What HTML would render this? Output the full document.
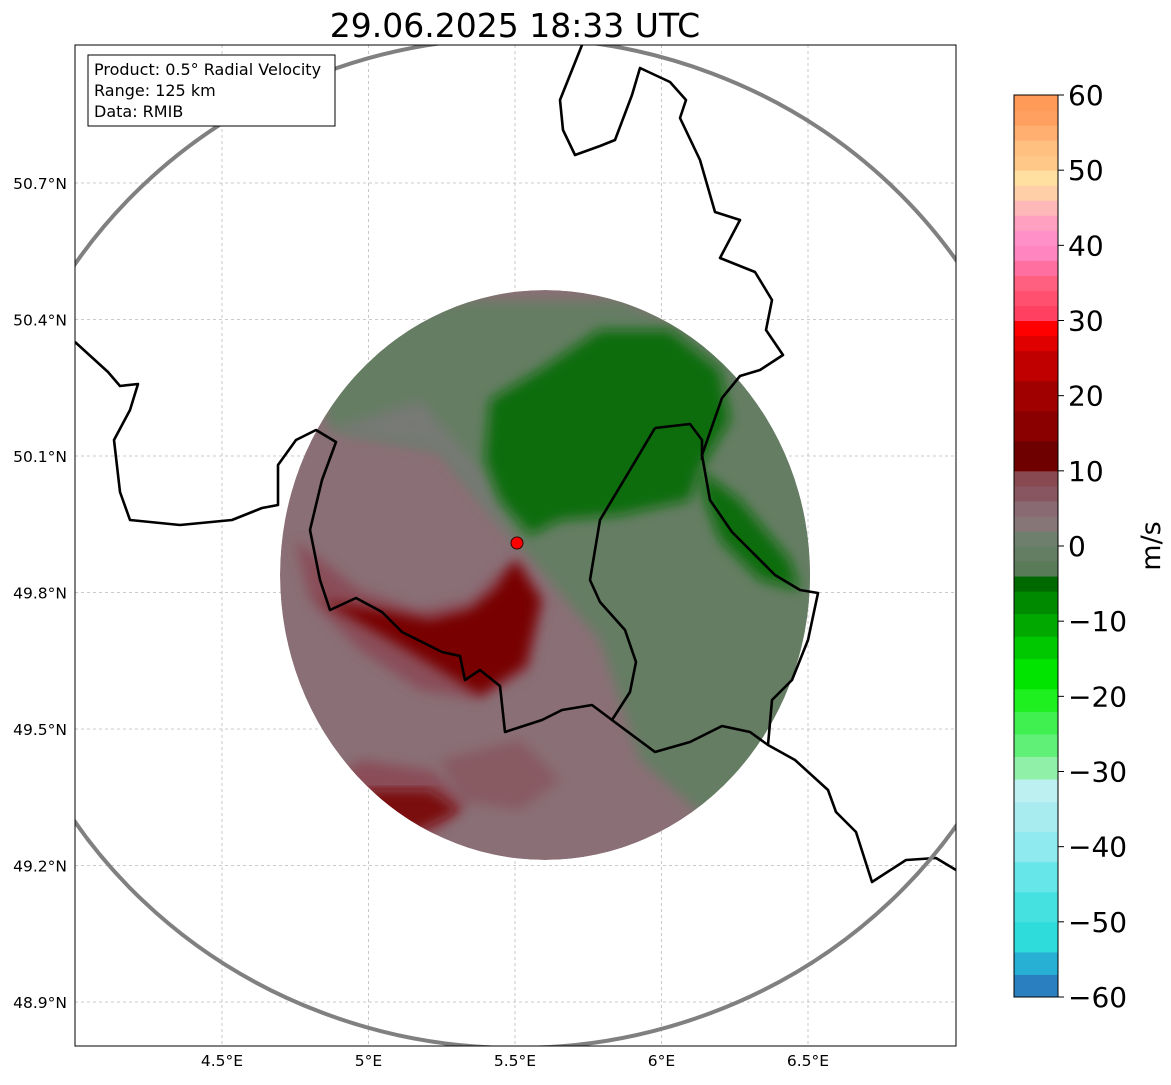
<!DOCTYPE html>
<html><head><meta charset="utf-8"><style>
body{margin:0;background:#fff;width:1171px;height:1081px;overflow:hidden;font-family:"DejaVu Sans","Liberation Sans",sans-serif}
</style></head><body>
<svg id="fig" width="1171" height="1081" xmlns="http://www.w3.org/2000/svg" font-family="DejaVu Sans, Liberation Sans, sans-serif">
<defs>
<clipPath id="axclip"><rect x="75" y="45" width="881" height="1001"/></clipPath>
<clipPath id="echoclip"><ellipse cx="545" cy="575" rx="265" ry="285"/></clipPath>
<filter id="soft"><feGaussianBlur stdDeviation="6"/></filter>
</defs>
<text x="515" y="37" font-size="33" text-anchor="middle">29.06.2025 18:33 UTC</text>
<g id="map" clip-path="url(#axclip)">
<g id="grid" stroke="#bbb" stroke-width="0.8" stroke-dasharray="3,3"></g>
<g clip-path="url(#echoclip)">
<ellipse cx="545" cy="575" rx="265" ry="285" fill="#8a6f76"/>
<path d="M300,330 L470,300 L620,300 L820,380 L830,780 L720,830 L640,760 L600,640 L517,543 L440,450 L330,430 Z" fill="#657d63" filter="url(#soft)"/>
<path d="M330,430 L440,450 L517,543 L480,470 L420,400 Z" fill="#777975" filter="url(#soft)"/>
<path d="M490,400 L540,370 L600,330 L670,330 L720,370 L730,420 L700,470 L690,500 L620,515 L560,520 L530,535 L500,500 L485,460 Z" fill="#0b6d0b" filter="url(#soft)"/>
<path d="M700,470 L740,500 L790,560 L800,590 L760,580 L720,540 L705,500 Z" fill="#0b6d0b" filter="url(#soft)"/>
<path d="M295,540 L310,600 L360,650 L420,690 L480,700 L530,670 L545,600 L520,560 L500,570 L470,600 L420,610 L360,590 Z" fill="#8a4e58" filter="url(#soft)"/>
<path d="M320,600 L390,640 L440,670 L480,695 L525,665 L540,600 L515,560 L495,590 L470,610 L430,620 L380,610 Z" fill="#780303" filter="url(#soft)"/>
<path d="M310,800 L360,760 L430,770 L470,800 L440,830 L380,840 L330,830 Z" fill="#8a4e58" filter="url(#soft)"/>
<path d="M320,815 L370,790 L430,790 L460,810 L420,830 L360,835 Z" fill="#7a1010" filter="url(#soft)"/>
<path d="M440,760 L520,740 L560,780 L520,810 L460,800 Z" fill="#885a62" filter="url(#soft)"/>
</g>
<g fill="none" stroke="#000" stroke-width="2.6" stroke-linejoin="round">
<polyline points="582,45 560,100 563,130 575,155 600,146 615,140 632,95 640,68 670,82 686,100 680,118 700,160 715,212 740,220 720,258 755,272 772,300 766,330 783,355 760,370 740,376 722,398 702,455 710,500 732,532 775,575 800,590 818,593 808,640 792,680 772,700 768,745 795,760 828,790 836,812 856,832 872,882 906,860 936,858 956,870"/>
<polyline points="655,428 690,424 702,440 702,460"/>
<polyline points="655,428 630,470 600,520 590,580 600,602 625,630 636,662 630,692 612,720 655,752 690,742 722,726 750,732 768,745"/>
<polyline points="75,342 108,372 120,386 138,384 130,410 114,440 120,492 130,520 180,525 232,520 262,508 278,505 278,465 296,440 316,430 336,442 322,480 310,530 320,580 330,610 356,598 382,612 402,632 422,642 442,652 460,656 465,680 480,670 500,686 505,732 542,720 562,710 592,705 612,720"/>
</g>
<ellipse cx="517" cy="543" rx="530" ry="505" fill="none" stroke="#808080" stroke-width="4"/>
<circle cx="517" cy="543" r="6" fill="#f00" stroke="#300" stroke-width="1"/>
<g>
<rect x="88" y="55" width="247" height="71" fill="#fff" stroke="#000" stroke-width="1"/>
<text x="94" y="75" font-size="16">Product: 0.5° Radial Velocity</text>
<text x="94" y="96" font-size="16">Range: 125 km</text>
<text x="94" y="117" font-size="16">Data: RMIB</text>
</g>
</g>
<rect x="75" y="45" width="881" height="1001" fill="none" stroke="#000" stroke-width="1"/>
<g id="axlabels" font-size="15.5"></g>
<g id="cbar"></g>
<text transform="translate(1160,546) rotate(-90)" font-size="27" text-anchor="middle">m/s</text>
</svg>
<script>
const lonTicks=[4.5,5,5.5,6,6.5];
const latTicks=[48.9,49.2,49.5,49.8,50.1,50.4,50.7];
const cbTicks=[-60,-50,-40,-30,-20,-10,0,10,20,30,40,50,60];
const cbStops=[-60,-57,-54,-50,-46,-42,-38,-34,-31,-28,-25,-22,-19,-15,-12,-9,-6,-4,-2,0,2,4,6,8,10,14,18,22,26,28,30,32,34,36,38,40,42,44,46,48,50,52,54,56,58,60];
const cbColors=["#2a7fc0","#27b0d4","#2edcdc","#45e0e0","#66e6e8","#8eeaee","#a9ecf0","#bdf0f0","#90f0a8","#60f078","#40f050","#1ef020","#00e400","#00c800","#00a800","#008a00","#006a00","#5a7b58","#637e62","#6f7f6e","#867677","#8a6a72","#885660","#884a50","#6e0000","#8a0000","#a00000","#c00000","#e00000","#ff0000","#ff4060","#ff5070","#ff6080","#ff70a0","#ff85c0","#ff90c8","#ffa0c0","#ffb8b8","#ffd0a8","#ffe0a0","#ffc888","#ffc080","#ffb070","#ffa060","#ff9a58"];
const ns="http://www.w3.org/2000/svg";
const X0=75,X1=956,Y0=45,Y1=1046;
function xLon(l){return 222+(l-4.5)*293;}
function yLat(a){return 1002-(a-48.9)/0.3*136.5;}
const grid=document.getElementById('grid'),axl=document.getElementById('axlabels');
lonTicks.forEach(l=>{const x=xLon(l);
 const g=document.createElementNS(ns,'line');g.setAttribute('x1',x);g.setAttribute('x2',x);g.setAttribute('y1',Y0);g.setAttribute('y2',Y1);
 
 grid.appendChild(g);
 const t=document.createElementNS(ns,'text');t.setAttribute('x',x);t.setAttribute('y',1066);t.setAttribute('text-anchor','middle');t.textContent=l+'°E';
 
 axl.appendChild(t);});
latTicks.forEach(a=>{const y=yLat(a);
 const g=document.createElementNS(ns,'line');g.setAttribute('x1',X0);g.setAttribute('x2',X1);g.setAttribute('y1',y);g.setAttribute('y2',y);
 
 grid.appendChild(g);
 const t=document.createElementNS(ns,'text');t.setAttribute('x',67);t.setAttribute('y',y+6);t.setAttribute('text-anchor','end');t.textContent=a.toFixed(1)+'°N';
 
 axl.appendChild(t);});
const cb=document.getElementById('cbar');
const CT=95,CB=997,CX=1014,CW=44;
function yV(v){return CB-(v+60)/120*(CB-CT);}
for(let i=0;i<cbColors.length;i++){const r=document.createElementNS(ns,'rect');
 const y1=yV(cbStops[i+1]),y2=yV(cbStops[i]);
 r.setAttribute('x',CX);r.setAttribute('y',y1);r.setAttribute('width',CW);r.setAttribute('height',y2-y1+0.5);r.setAttribute('fill',cbColors[i]);
 
 cb.appendChild(r);}
const fr=document.createElementNS(ns,'rect');fr.setAttribute('x',CX);fr.setAttribute('y',CT);fr.setAttribute('width',CW);fr.setAttribute('height',CB-CT);fr.setAttribute('fill','none');fr.setAttribute('stroke','#000');

cb.appendChild(fr);
cbTicks.forEach(v=>{const y=yV(v);
 const l=document.createElementNS(ns,'line');l.setAttribute('x1',CX+CW);l.setAttribute('x2',CX+CW+6);l.setAttribute('y1',y);l.setAttribute('y2',y);l.setAttribute('stroke','#000');
 
 cb.appendChild(l);
 const t=document.createElementNS(ns,'text');t.setAttribute('x',CX+CW+10);t.setAttribute('y',y+10);t.setAttribute('font-size','28');t.textContent=(v<0?'\u2212'+(-v):v);
 
 cb.appendChild(t);});
</script>
</body></html>
